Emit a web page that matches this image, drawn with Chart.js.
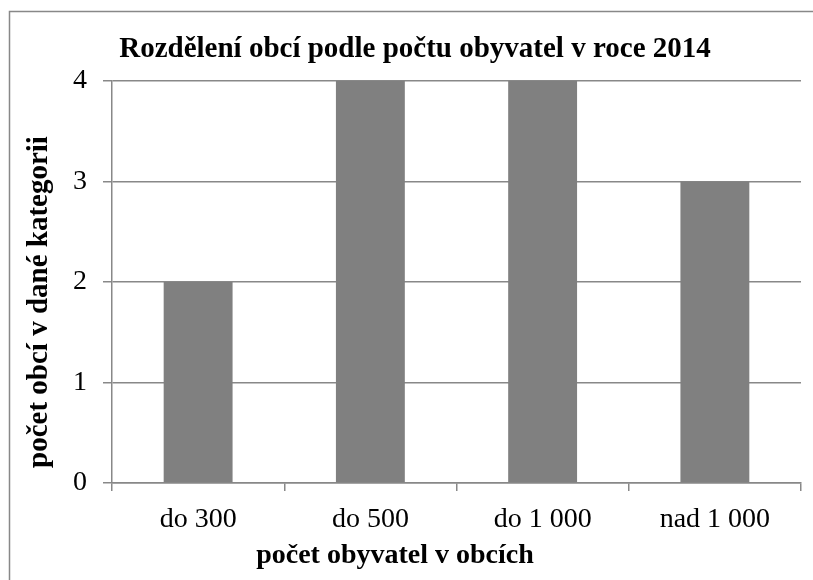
<!DOCTYPE html>
<html>
<head>
<meta charset="utf-8">
<script src="https://cdn.jsdelivr.net/npm/chart.js@4"></script>
<style>
  html, body { margin: 0; padding: 0; background: #fff; }
  canvas { display: block; }
</style>
</head>
<body>
<canvas id="chart" width="813" height="580"></canvas>
<script>
  // data
  const categories = ['do 300', 'do 500', 'do 1 000', 'nad 1 000'];
  const counts = [2, 4, 4, 3];
  const yTicks = [0, 1, 2, 3, 4];

  const chartTitle = 'Rozdělení obcí podle počtu obyvatel v roce 2014';
  const xTitle = 'počet obyvatel v obcích';
  const yTitle = 'počet obcí v dané kategorii';

  const SERIF = '"Liberation Serif", "Times New Roman", serif';
  const GRID = '#888888';

  // draws the outer frame and the three titles where the original has them
  const textPlugin = {
    id: 'texts',
    afterDraw: function(chart) {
      const ctx = chart.ctx;
      ctx.save();
      ctx.strokeStyle = GRID;
      ctx.lineWidth = 1.5;
      ctx.beginPath();
      ctx.moveTo(9.5, 580);
      ctx.lineTo(9.5, 11.5);
      ctx.lineTo(813, 11.5);
      ctx.stroke();

      ctx.fillStyle = '#000';
      ctx.textAlign = 'center';
      ctx.textBaseline = 'middle';
      ctx.font = 'bold 29px ' + SERIF;
      ctx.fillText(chartTitle, 415, 50);
      ctx.font = 'bold 28px ' + SERIF;
      ctx.fillText(xTitle, 395, 556);

      ctx.font = 'bold 29px ' + SERIF;
      ctx.translate(40, 302);
      ctx.rotate(-Math.PI / 2);
      ctx.fillText(yTitle, 0, 0);
      ctx.restore();
    }
  };

  const data = {
    labels: categories,
    datasets: [{
      data: counts,
      backgroundColor: '#808080',
      barPercentage: 0.4,
      categoryPercentage: 1.0
    }]
  };

  const config = {
    type: 'bar',
    data: data,
    options: {
      responsive: false,
      animation: false,
      layout: { padding: { top: 81, right: 12, left: 0, bottom: 0 } },
      plugins: {
        legend: { display: false },
        title: { display: false },
        tooltip: { enabled: false }
      },
      scales: {
        x: {
          grid: { drawOnChartArea: false, color: GRID, tickLength: 8, lineWidth: 1.5 },
          border: { color: GRID, width: 1.5 },
          ticks: { color: '#000', padding: 12, font: { family: SERIF, size: 28 } },
          afterFit: function(scale) { scale.height = 580 - 483; }
        },
        y: {
          min: yTicks[0],
          max: yTicks[yTicks.length - 1],
          afterBuildTicks: function(scale) {
            scale.ticks = yTicks.map(function(v) { return { value: v }; });
          },
          grid: { color: GRID, tickLength: 9, lineWidth: 1.5 },
          border: { color: GRID, width: 1.5 },
          ticks: { color: '#000', padding: 16, font: { family: SERIF, size: 28 } },
          afterFit: function(scale) { scale.width = 112; }
        }
      }
    },
    plugins: [textPlugin]
  };

  const bars = new Chart(document.getElementById('chart'), config);
</script>
</body>
</html>
